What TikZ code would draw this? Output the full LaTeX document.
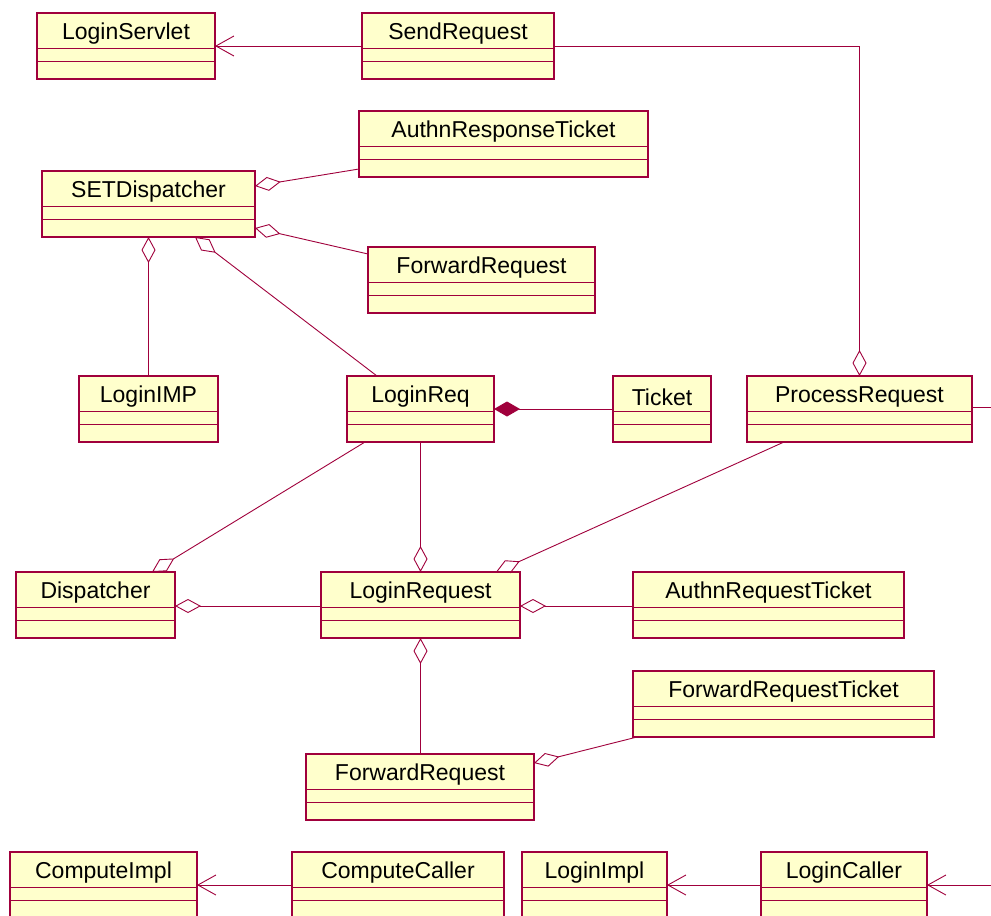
\documentclass[tikz,border=0pt]{standalone}
\usepackage{fontspec}
\setmainfont{Liberation Sans}
\usetikzlibrary{arrows.meta,calc}
\definecolor{umlred}{RGB}{160,0,60}
\definecolor{umlfill}{RGB}{255,255,204}
\tikzset{
  clsbox/.style={draw=umlred, fill=umlfill, line width=1.1pt, minimum height=66pt, inner sep=0pt, outer sep=0pt, anchor=north west},
  clstitle/.style={font=\fontsize{23}{26}\selectfont, inner sep=0pt, anchor=center},
  clsline/.style={draw=umlred, line width=1pt},
  conn/.style={draw=umlred, line width=0.9pt},
  agg/.style={conn, -{Diamond[open, length=26pt, width=14pt]}},
  comp/.style={conn, -{Diamond[length=26pt, width=15pt, fill=umlred]}},
  dep/.style={conn, -{Straight Barb[length=18pt, width=20pt, line width=0.9pt]}},
}
\newcommand\umlclass[5]{%
  \node[clsbox, minimum width=#4pt] (#1) at (#2,#3) {};
  \node[clstitle] (#1t) at ([yshift=-21pt]#1.north) {#5};
  \draw[clsline] ([yshift=-35pt]#1.north west) -- ([yshift=-35pt]#1.north east);
  \draw[clsline] ([yshift=-48pt]#1.north west) -- ([yshift=-48pt]#1.north east);
  \draw[umlred, line width=1.6pt] (#1.north east) -- (#1.south east) -- (#1.south west);
}
\begin{document}
\begin{tikzpicture}[x=1pt, y=-1pt]
  \clip (0,0) rectangle (991,916);
  \fill[white] (0,0) rectangle (991,916);
  % classes
  \umlclass{servlet}{37}{13}{178}{LoginServlet}
  \umlclass{send}{362}{13}{192}{SendRequest}
  \umlclass{art}{359}{111}{289}{AuthnResponseTicket}
  \umlclass{setd}{42}{171}{213}{SETDispatcher}
  \umlclass{fwda}{368}{247}{227}{ForwardRequest}
  \umlclass{limp}{79}{376}{139}{LoginIMP}
  \umlclass{lreq}{347}{376}{147}{LoginReq}
  \umlclass{ticket}{613}{376}{98}{Ticket}
  \umlclass{proc}{747}{376}{225}{ProcessRequest}
  \umlclass{disp}{16}{572}{159}{Dispatcher}
  \umlclass{lrequest}{321}{572}{199}{LoginRequest}
  \umlclass{aqt}{633}{572}{271}{AuthnRequestTicket}
  \umlclass{frt}{633}{671}{301}{ForwardRequestTicket}
  \umlclass{fwdb}{306}{754}{228}{ForwardRequest}
  \umlclass{cimpl}{10}{852}{187}{ComputeImpl}
  \umlclass{ccaller}{292}{852}{212}{ComputeCaller}
  \umlclass{limpl}{522}{852}{145}{LoginImpl}
  \umlclass{lcaller}{761}{852}{166}{LoginCaller}
  % free ends
  \coordinate (rin) at (991,885);
  \coordinate (rout) at (991,407);
  % connectors
  \draw[dep] ([yshift=-33pt]send.north west) -- ([yshift=-33pt]servlet.north east);
  \draw[agg] ([yshift=-33pt]send.north east) -| (proc.north);
  \draw[agg] ([yshift=-58pt]art.north west) -- ([yshift=-15pt]setd.north east);
  \draw[agg] ([yshift=-7pt]fwda.north west) -- ([yshift=-57pt]setd.north east);
  \draw[agg] (limp.north) -- (setd.south -| limp.north);
  \draw[agg] ([xshift=30pt]lreq.north west) -- ([xshift=153pt]setd.south west);
  \draw[comp] ([yshift=-33pt]ticket.north west) -- ([yshift=-33pt]lreq.north east);
  \draw[agg] (lreq.south) -- (lrequest.north);
  \draw[agg] ([xshift=18pt]lreq.south west) -- ([xshift=136pt]disp.north west);
  \draw[agg] ([xshift=37pt]proc.south west) -- ([xshift=175pt]lrequest.north west);
  \draw[agg] ([yshift=-34pt]lrequest.north west) -- ([yshift=-34pt]disp.north east);
  \draw[agg] ([yshift=-34pt]aqt.north west) -- ([yshift=-34pt]lrequest.north east);
  \draw[agg] (lrequest.south |- fwdb.north) -- (lrequest.south);
  \draw[agg] ([xshift=4pt]frt.south west) -- ([yshift=-9pt]fwdb.north east);
  \draw[dep] ([yshift=-33pt]ccaller.north west) -- ([yshift=-33pt]cimpl.north east);
  \draw[dep] ([yshift=-33pt]lcaller.north west) -- ([yshift=-33pt]limpl.north east);
  \draw[dep] (rin) -- ([yshift=-33pt]lcaller.north east);
  \draw[conn] ([yshift=-31pt]proc.north east) -- (rout);
\end{tikzpicture}
\end{document}
